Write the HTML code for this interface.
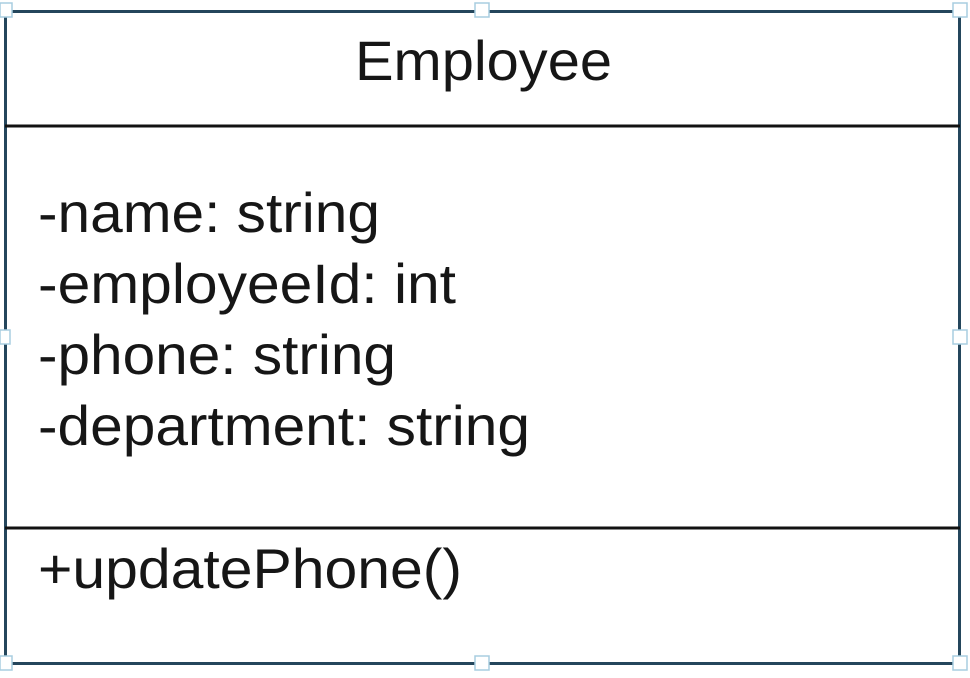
<!DOCTYPE html>
<html><head><style>html,body{margin:0;padding:0;background:#fff;}svg{display:block}</style></head>
<body>
<svg width="970" height="678" viewBox="0 0 970 678" xmlns="http://www.w3.org/2000/svg">
<rect x="0" y="0" width="970" height="678" fill="#fff"/>
<rect x="5.5" y="11.5" width="954" height="652" fill="none" stroke="#24465c" stroke-width="3"/>
<line x1="5" y1="126" x2="960" y2="126" stroke="#111" stroke-width="3"/>
<line x1="5" y1="528" x2="960" y2="528" stroke="#111" stroke-width="3"/>
<g fill="#fff" stroke="#a8cde0" stroke-width="1.5">
<rect x="0" y="3" width="12" height="14"/>
<rect x="475" y="3" width="14" height="14"/>
<rect x="953" y="3" width="14" height="14"/>
<rect x="0" y="330" width="10" height="14"/>
<rect x="953" y="330" width="14" height="14"/>
<rect x="0" y="656" width="12" height="14"/>
<rect x="475" y="656" width="14" height="14"/>
<rect x="953" y="656" width="14" height="14"/>
</g>
<g font-family="Liberation Sans, Arial, sans-serif" font-size="56" fill="#161616">
<text x="355" y="80" textLength="257" lengthAdjust="spacingAndGlyphs">Employee</text>
<text x="38" y="232" textLength="342" lengthAdjust="spacingAndGlyphs">-name: string</text>
<text x="38" y="303" textLength="418" lengthAdjust="spacingAndGlyphs">-employeeId: int</text>
<text x="38" y="374" textLength="358" lengthAdjust="spacingAndGlyphs">-phone: string</text>
<text x="38" y="445" textLength="492" lengthAdjust="spacingAndGlyphs">-department: string</text>
<text x="38" y="588" textLength="424" lengthAdjust="spacingAndGlyphs">+updatePhone()</text>
</g>
</svg>
</body></html>
